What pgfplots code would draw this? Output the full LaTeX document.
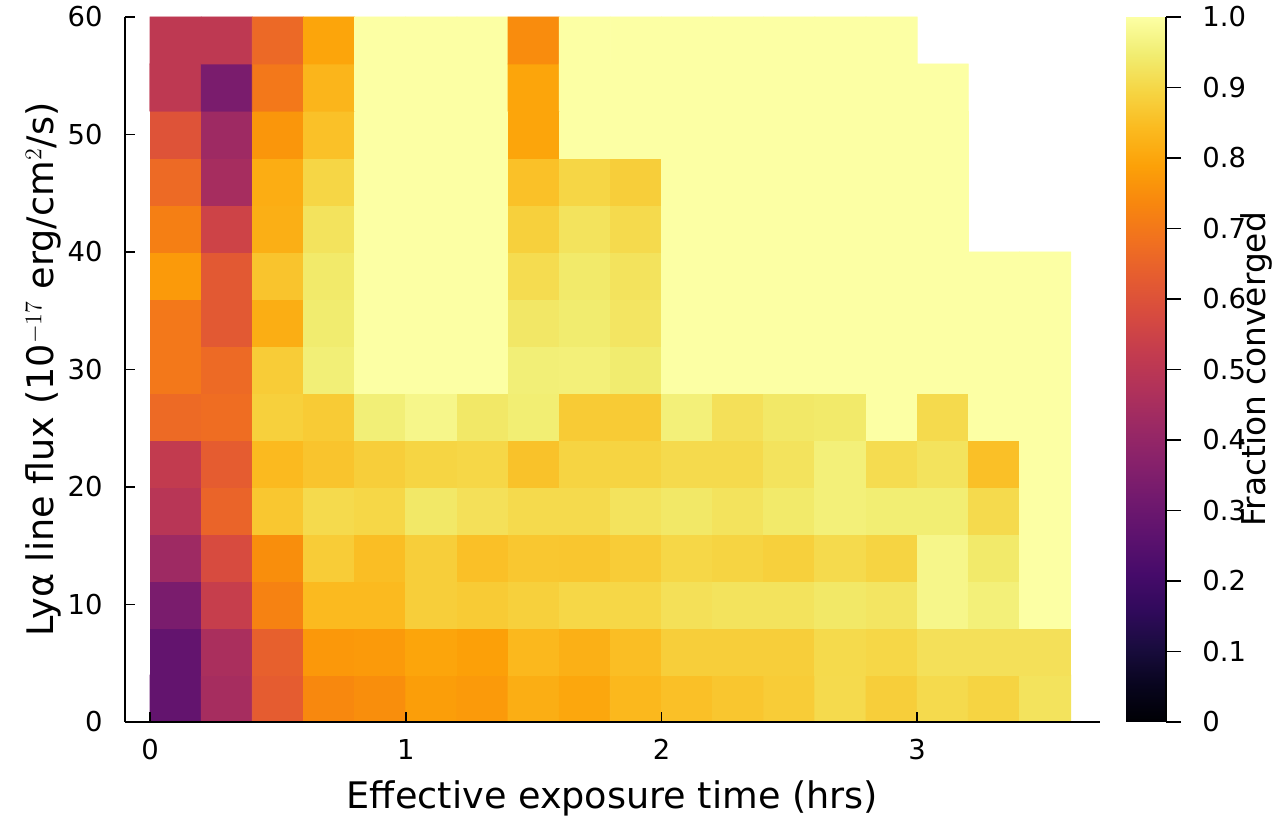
\documentclass[border=0pt]{standalone}
\usepackage{pgfplots}
\pgfplotsset{compat=1.18}
\usepackage{pgfplotstable}
\usepackage{fontspec}
\setmainfont{DejaVu Sans}

\pgfplotsset{colormap={inferno}{rgb255=(0,0,4) rgb255=(8,5,30) rgb255=(25,12,62) rgb255=(48,10,91) rgb255=(70,11,106) rgb255=(92,18,110) rgb255=(113,25,110) rgb255=(135,33,107) rgb255=(155,41,100) rgb255=(177,50,90) rgb255=(196,60,78) rgb255=(215,75,63) rgb255=(229,92,48) rgb255=(241,113,31) rgb255=(248,135,14) rgb255=(252,161,8) rgb255=(251,186,31) rgb255=(246,213,67) rgb255=(241,237,113) rgb255=(252,255,164)}}

% Block A: columns x=0.1..3.1, rows y=2..54
\pgfplotstableread[row sep=\\]{
x y c\\
0.1 2 0.28\\ 0.3 2 0.447\\ 0.5 2 0.632\\ 0.7 2 0.739\\ 0.9 2 0.751\\ 1.1 2 0.783\\ 1.3 2 0.775\\ 1.5 2 0.816\\ 1.7 2 0.802\\ 1.9 2 0.838\\ 2.1 2 0.854\\ 2.3 2 0.865\\ 2.5 2 0.877\\ 2.7 2 0.906\\ 2.9 2 0.881\\ 3.1 2 0.906\\
0.1 6 0.28\\ 0.3 6 0.457\\ 0.5 6 0.642\\ 0.7 6 0.771\\ 0.9 6 0.775\\ 1.1 6 0.797\\ 1.3 6 0.787\\ 1.5 6 0.838\\ 1.7 6 0.821\\ 1.9 6 0.85\\ 2.1 6 0.881\\ 2.3 6 0.881\\ 2.5 6 0.881\\ 2.7 6 0.905\\ 2.9 6 0.90\\ 3.1 6 0.92\\
0.1 10 0.337\\ 0.3 10 0.533\\ 0.5 10 0.725\\ 0.7 10 0.842\\ 0.9 10 0.842\\ 1.1 10 0.881\\ 1.3 10 0.875\\ 1.5 10 0.885\\ 1.7 10 0.90\\ 1.9 10 0.90\\ 2.1 10 0.919\\ 2.3 10 0.925\\ 2.5 10 0.925\\ 2.7 10 0.936\\ 2.9 10 0.93\\ 3.1 10 0.973\\
0.1 14 0.428\\ 0.3 14 0.58\\ 0.5 14 0.751\\ 0.7 14 0.877\\ 0.9 14 0.85\\ 1.1 14 0.881\\ 1.3 14 0.854\\ 1.5 14 0.867\\ 1.7 14 0.865\\ 1.9 14 0.877\\ 2.1 14 0.90\\ 2.3 14 0.893\\ 2.5 14 0.885\\ 2.7 14 0.906\\ 2.9 14 0.893\\ 3.1 14 0.973\\
0.1 18 0.493\\ 0.3 18 0.652\\ 0.5 18 0.867\\ 0.7 18 0.906\\ 0.9 18 0.90\\ 1.1 18 0.936\\ 1.3 18 0.92\\ 1.5 18 0.906\\ 1.7 18 0.906\\ 1.9 18 0.925\\ 2.1 18 0.936\\ 2.3 18 0.925\\ 2.5 18 0.94\\ 2.7 18 0.956\\ 2.9 18 0.95\\ 3.1 18 0.95\\
0.1 22 0.52\\ 0.3 22 0.632\\ 0.5 22 0.842\\ 0.7 22 0.862\\ 0.9 22 0.881\\ 1.1 22 0.895\\ 1.3 22 0.90\\ 1.5 22 0.858\\ 1.7 22 0.893\\ 1.9 22 0.893\\ 2.1 22 0.906\\ 2.3 22 0.906\\ 2.5 22 0.925\\ 2.7 22 0.956\\ 2.9 22 0.91\\ 3.1 22 0.925\\
0.1 26 0.667\\ 0.3 26 0.674\\ 0.5 26 0.885\\ 0.7 26 0.875\\ 0.9 26 0.954\\ 1.1 26 0.973\\ 1.3 26 0.936\\ 1.5 26 0.95\\ 1.7 26 0.875\\ 1.9 26 0.875\\ 2.1 26 0.956\\ 2.3 26 0.92\\ 2.5 26 0.936\\ 2.7 26 0.94\\ 2.9 26 1\\ 3.1 26 0.906\\
0.1 30 0.70\\ 0.3 30 0.667\\ 0.5 30 0.877\\ 0.7 30 0.954\\ 0.9 30 1\\ 1.1 30 1\\ 1.3 30 1\\ 1.5 30 0.954\\ 1.7 30 0.956\\ 1.9 30 0.945\\ 2.1 30 1\\ 2.3 30 1\\ 2.5 30 1\\ 2.7 30 1\\ 2.9 30 1\\ 3.1 30 1\\
0.1 34 0.70\\ 0.3 34 0.622\\ 0.5 34 0.816\\ 0.7 34 0.945\\ 0.9 34 1\\ 1.1 34 1\\ 1.3 34 1\\ 1.5 34 0.935\\ 1.7 34 0.945\\ 1.9 34 0.93\\ 2.1 34 1\\ 2.3 34 1\\ 2.5 34 1\\ 2.7 34 1\\ 2.9 34 1\\ 3.1 34 1\\
0.1 38 0.775\\ 0.3 38 0.622\\ 0.5 38 0.862\\ 0.7 38 0.94\\ 0.9 38 1\\ 1.1 38 1\\ 1.3 38 1\\ 1.5 38 0.91\\ 1.7 38 0.94\\ 1.9 38 0.925\\ 2.1 38 1\\ 2.3 38 1\\ 2.5 38 1\\ 2.7 38 1\\ 2.9 38 1\\ 3.1 38 1\\
0.1 42 0.717\\ 0.3 42 0.55\\ 0.5 42 0.82\\ 0.7 42 0.925\\ 0.9 42 1\\ 1.1 42 1\\ 1.3 42 1\\ 1.5 42 0.885\\ 1.7 42 0.925\\ 1.9 42 0.906\\ 2.1 42 1\\ 2.3 42 1\\ 2.5 42 1\\ 2.7 42 1\\ 2.9 42 1\\ 3.1 42 1\\
0.1 46 0.667\\ 0.3 46 0.447\\ 0.5 46 0.814\\ 0.7 46 0.897\\ 0.9 46 1\\ 1.1 46 1\\ 1.3 46 1\\ 1.5 46 0.856\\ 1.7 46 0.897\\ 1.9 46 0.881\\ 2.1 46 1\\ 2.3 46 1\\ 2.5 46 1\\ 2.7 46 1\\ 2.9 46 1\\ 3.1 46 1\\
0.1 50 0.604\\ 0.3 50 0.428\\ 0.5 50 0.767\\ 0.7 50 0.856\\ 0.9 50 1\\ 1.1 50 1\\ 1.3 50 1\\ 1.5 50 0.797\\ 1.7 50 1\\ 1.9 50 1\\ 2.1 50 1\\ 2.3 50 1\\ 2.5 50 1\\ 2.7 50 1\\ 2.9 50 1\\ 3.1 50 1\\
0.1 54 0.51\\ 0.3 54 0.337\\ 0.5 54 0.70\\ 0.7 54 0.832\\ 0.9 54 1\\ 1.1 54 1\\ 1.3 54 1\\ 1.5 54 0.797\\ 1.7 54 1\\ 1.9 54 1\\ 2.1 54 1\\ 2.3 54 1\\ 2.5 54 1\\ 2.7 54 1\\ 2.9 54 1\\ 3.1 54 1\\
}\blockA

% Block B: columns x=0.1..2.9, rows y=54,58
\pgfplotstableread[row sep=\\]{
x y c\\
0.1 54 0.51\\ 0.3 54 0.337\\ 0.5 54 0.70\\ 0.7 54 0.832\\ 0.9 54 1\\ 1.1 54 1\\ 1.3 54 1\\ 1.5 54 0.797\\ 1.7 54 1\\ 1.9 54 1\\ 2.1 54 1\\ 2.3 54 1\\ 2.5 54 1\\ 2.7 54 1\\ 2.9 54 1\\
0.1 58 0.51\\ 0.3 58 0.51\\ 0.5 58 0.664\\ 0.7 58 0.797\\ 0.9 58 1\\ 1.1 58 1\\ 1.3 58 1\\ 1.5 58 0.747\\ 1.7 58 1\\ 1.9 58 1\\ 2.1 58 1\\ 2.3 58 1\\ 2.5 58 1\\ 2.7 58 1\\ 2.9 58 1\\
}\blockB

% Block C: columns x=3.1..3.5, rows y=2..38
\pgfplotstableread[row sep=\\]{
x y c\\
3.1 2 0.906\\ 3.3 2 0.893\\ 3.5 2 0.925\\
3.1 6 0.92\\ 3.3 6 0.92\\ 3.5 6 0.92\\
3.1 10 0.973\\ 3.3 10 0.956\\ 3.5 10 1\\
3.1 14 0.973\\ 3.3 14 0.94\\ 3.5 14 1\\
3.1 18 0.95\\ 3.3 18 0.906\\ 3.5 18 1\\
3.1 22 0.925\\ 3.3 22 0.854\\ 3.5 22 1\\
3.1 26 0.906\\ 3.3 26 1\\ 3.5 26 1\\
3.1 30 1\\ 3.3 30 1\\ 3.5 30 1\\
3.1 34 1\\ 3.3 34 1\\ 3.5 34 1\\
3.1 38 1\\ 3.3 38 1\\ 3.5 38 1\\
}\blockC

% colour scale (colorbar) strip: value at bottom and top
\pgfplotstableread[row sep=\\]{
x y c\\
0 0 0\\ 1 0 0\\
0 0.5 0.5\\ 1 0.5 0.5\\
0 1 1\\ 1 1 1\\
}\cbar

\begin{document}
\begin{tikzpicture}
\begin{axis}[
  name=main,
  scale only axis,
  width=487.5pt, height=352.5pt,
  xmin=-0.098, xmax=3.715, ymin=0, ymax=60,
  axis x line*=bottom, axis y line*=left,
  axis line style={line width=0.8pt, -},
  tick align=inside, major tick length=5pt,
  tick style={line width=0.8pt, black},
  xtick={0,1,2,3}, ytick={0,10,20,30,40,50,60},
  /pgf/number format/assume math mode=true,
  tick label style={font=\fontsize{13.7}{16}\selectfont},
  xticklabel style={inner sep=0pt, anchor=north, yshift=-8.5pt},
  yticklabel style={inner sep=0pt, anchor=east, xshift=-11pt},
  label style={font=\fontsize{18.3}{22}\selectfont},
  xlabel={Effective exposure time (hrs)},
  xlabel style={at={([yshift=-29pt]axis description cs:0.5,0)}, anchor=north, inner sep=0pt},
  ylabel={Lyα line flux (10$^{-17}$ erg/cm$^{2}$/s)},
  ylabel style={at={([xshift=-31.5pt]axis description cs:0,0.5)}, anchor=south, rotate=0, inner sep=0pt},
  colormap name=inferno,
  point meta min=0, point meta max=1,
  axis on top,
]
\addplot[matrix plot*, mesh/cols=16, point meta=explicit] table[x=x, y=y, meta=c] {\blockA};
\addplot[matrix plot*, mesh/cols=15, point meta=explicit] table[x=x, y=y, meta=c] {\blockB};
\addplot[matrix plot*, mesh/cols=3, point meta=explicit] table[x=x, y=y, meta=c] {\blockC};
\end{axis}
\begin{axis}[
  name=cb,
  at={(main.north east)}, anchor=north west, xshift=13pt,
  scale only axis,
  width=20pt, height=352.5pt,
  xmin=0, xmax=1, ymin=0, ymax=1,
  axis x line=none, axis y line*=right,
  axis line style={line width=0.8pt, -},
  ytick={0,0.1,0.2,0.3,0.4,0.5,0.6,0.7,0.8,0.9,1},
  yticklabels={0,0.1,0.2,0.3,0.4,0.5,0.6,0.7,0.8,0.9,1.0},
  tick align=outside, major tick length=7.5pt,
  tick style={line width=0.8pt, black},
  /pgf/number format/assume math mode=true,
  yticklabel style={font=\fontsize{13.7}{16}\selectfont, inner sep=0pt, anchor=west, xshift=10.5pt},
  ylabel={Fraction converged},
  ylabel style={font=\fontsize{16.4}{19}\selectfont, at={([xshift=37pt]axis description cs:1,0.5)}, anchor=north, rotate=0, inner sep=0pt},
  colormap name=inferno,
  point meta min=0, point meta max=1,
  axis on top,
]
\addplot[surf, shader=interp, mesh/rows=3, point meta=explicit] table[x=x, y=y, meta=c] {\cbar};
\end{axis}
\pgfresetboundingbox
\path ([shift={(-62.5pt,-47.5pt)}]main.south west) rectangle ([shift={(90pt,8.5pt)}]main.north east);
\end{tikzpicture}
\end{document}
